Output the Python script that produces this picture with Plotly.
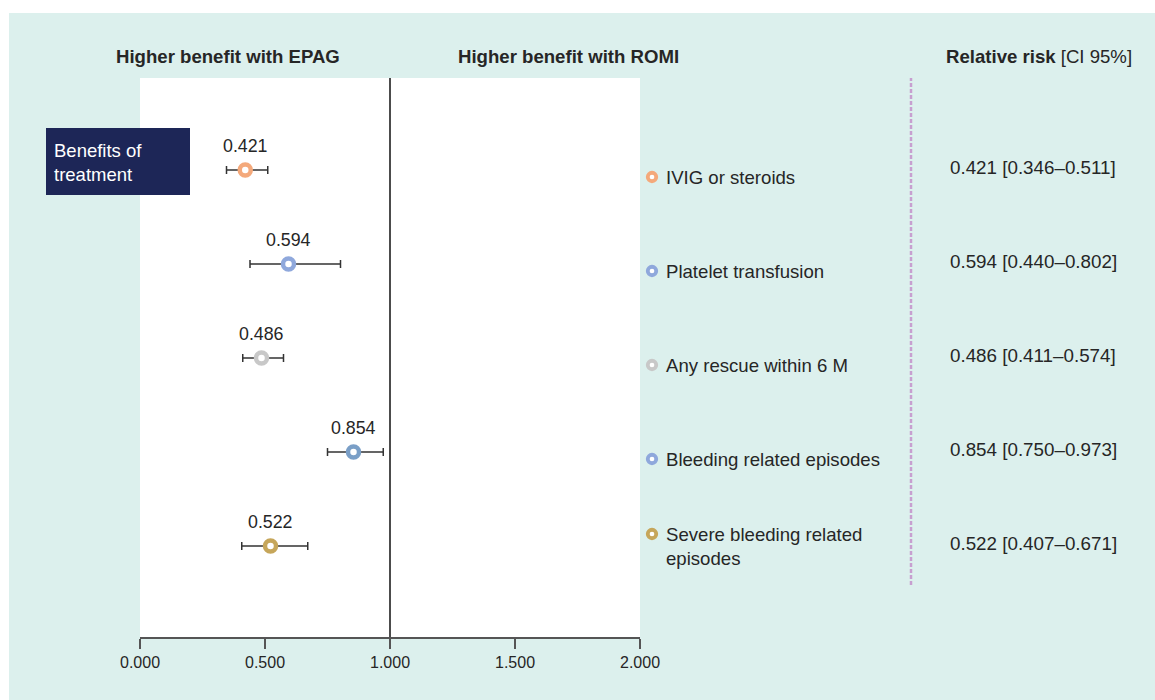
import plotly.graph_objects as go

# ---- data ----
outcomes = ["IVIG or steroids", "Platelet transfusion", "Any rescue within 6 M",
            "Bleeding related episodes", "Severe bleeding related<br>episodes"]
rr = [0.421, 0.594, 0.486, 0.854, 0.522]
ci_low = [0.346, 0.440, 0.411, 0.750, 0.407]
ci_high = [0.511, 0.802, 0.574, 0.973, 0.671]
marker_colors = ["#f4a97b", "#8fa8dc", "#c8c8c8", "#7a9fc7", "#c6a65a"]
legend_colors = ["#f4a97b", "#8fa8dc", "#c8c8c8", "#8fa8dc", "#c6a65a"]
x_ticks = [0, 0.5, 1, 1.5, 2]
x_tick_labels = ["0.000", "0.500", "1.000", "1.500", "2.000"]

W, H = 1155, 700
FONT = "Liberation Sans, Arial, sans-serif"
TXT = "#262626"

def px(x):
    return x / W

def py(y):
    return 1 - y / H

rows = list(range(len(rr)))
ROW_PX = 94.0  # pixels per row unit (for small label offsets)

fig = go.Figure()

# main estimates with CI
fig.add_trace(go.Scatter(
    x=rr, y=rows, mode="markers",
    marker=dict(symbol="circle", size=11, color="white",
                line=dict(color=marker_colors, width=4.5)),
    error_x=dict(type="data", symmetric=False,
                 array=[h - v for h, v in zip(ci_high, rr)],
                 arrayminus=[v - l for v, l in zip(rr, ci_low)],
                 color="#333333", thickness=1.5, width=4),
    xaxis="x", yaxis="y", showlegend=False, hoverinfo="skip",
))

# legend markers (right column)
legend_offsets = [7, 7, 7, 7, -12]
fig.add_trace(go.Scatter(
    x=[0.0] * len(rr),
    y=[r + o / ROW_PX for r, o in zip(rows, legend_offsets)],
    mode="markers",
    marker=dict(symbol="circle", size=8.5, color="white",
                line=dict(color=legend_colors, width=3.8)),
    xaxis="x2", yaxis="y", showlegend=False, hoverinfo="skip", cliponaxis=False,
))

annotations = []
# value labels above markers
for r, v in zip(rows, rr):
    annotations.append(dict(x=v, y=r, xref="x", yref="y", text=f"{v:.3f}",
                            showarrow=False, yshift=24, xanchor="center", yanchor="middle",
                            font=dict(family=FONT, size=17.8, color=TXT)))
# legend texts
for r, name, o in zip(rows, outcomes, legend_offsets):
    nlines = name.count("<br>") + 1
    ys = -7 if nlines == 1 else 0
    annotations.append(dict(x=0.0, y=r, xref="x2", yref="y", text=name,
                            showarrow=False, xanchor="left", yanchor="middle",
                            xshift=12, yshift=ys, align="left",
                            font=dict(family=FONT, size=18.6, color=TXT)))
# relative risk column
for r, v, l, h in zip(rows, rr, ci_low, ci_high):
    annotations.append(dict(x=px(1033), y=r, xref="paper", yref="y",
                            text=f"{v:.3f} [{l:.3f}\u2013{h:.3f}]",
                            showarrow=False, xanchor="center", yanchor="middle", yshift=3,
                            font=dict(family=FONT, size=18.8, color=TXT)))
# headers
annotations += [
    dict(x=px(228), y=py(57), xref="paper", yref="paper", xanchor="center", yanchor="middle",
         text="<b>Higher benefit with EPAG</b>", showarrow=False,
         font=dict(family=FONT, size=18.6, color=TXT)),
    dict(x=px(568), y=py(57), xref="paper", yref="paper", xanchor="center", yanchor="middle",
         text="<b>Higher benefit with ROMI</b>", showarrow=False,
         font=dict(family=FONT, size=18.6, color=TXT)),
    dict(x=px(1134), y=py(57), xref="paper", yref="paper", xanchor="right", yanchor="middle",
         text="<b>Relative risk</b> [CI 95%]", showarrow=False,
         font=dict(family=FONT, size=18.6, color=TXT)),
    dict(x=px(52), y=py(162), xref="paper", yref="paper", xanchor="left",
         yanchor="middle", align="left",
         text="Benefits of<br>treatment", showarrow=False,
         font=dict(family=FONT, size=18.5, color="white")),
]

shapes = [
    # mint background
    dict(type="rect", xref="paper", yref="paper", x0=px(9), x1=1, y0=0, y1=py(13),
         fillcolor="#dcf0ed", line=dict(width=0), layer="below"),
    # white plot panel
    dict(type="rect", xref="paper", yref="paper", x0=px(140), x1=px(640),
         y0=py(637), y1=py(78), fillcolor="white", line=dict(width=0), layer="below"),
    # navy box
    dict(type="rect", xref="paper", yref="paper", x0=px(46), x1=px(190),
         y0=py(195), y1=py(128), fillcolor="#1d2657", line=dict(width=0), layer="above"),
    # no-effect line
    dict(type="line", xref="x", yref="paper", x0=1, x1=1, y0=py(637), y1=py(78),
         line=dict(color="#111111", width=1.5)),
    # dashed separator
    dict(type="line", xref="paper", yref="paper", x0=px(911), x1=px(911),
         y0=py(585), y1=py(78), line=dict(color="#c79fd0", width=2.5, dash="4px,2px")),
]

fig.update_layout(
    width=W, height=H, autosize=False,
    margin=dict(l=0, r=0, t=0, b=0, pad=0, autoexpand=False),
    paper_bgcolor="white", plot_bgcolor="rgba(0,0,0,0)",
    xaxis=dict(domain=[px(140), px(640)], range=[0, 2], tickvals=x_ticks,
               ticktext=x_tick_labels, showline=True, linecolor="#555555", linewidth=2,
               ticks="outside", ticklen=10, tickwidth=2, tickcolor="#555555",
               showgrid=False, zeroline=False, anchor="y", automargin=False,
               tickfont=dict(family=FONT, size=16, color=TXT)),
    xaxis2=dict(domain=[px(652), px(900)], range=[0, 1], visible=False, anchor="y",
                automargin=False),
    yaxis=dict(domain=[1 - 637 / H, 1 - 78 / H],
               range=[(637 - 170) / ROW_PX, (78 - 170) / ROW_PX],
               visible=False, showgrid=False, zeroline=False, automargin=False),
    annotations=annotations, shapes=shapes,
)

post = ("document.body.style.margin='0';document.body.style.padding='0';"
        "document.body.style.overflow='hidden';")
fig.write_html("out.html", post_script=post, config={"displayModeBar": False})
